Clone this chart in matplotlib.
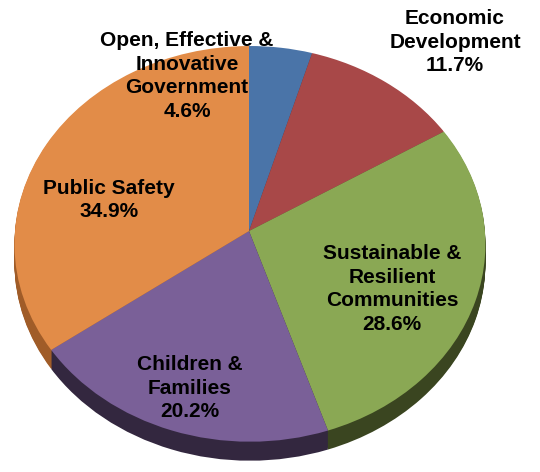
#!/usr/bin/env python3
"""
Tilted (3-D look) pie of budget shares by priority area.

Output:
- out.png
"""

import numpy as np
import matplotlib

matplotlib.use("Agg")
import matplotlib.pyplot as plt
from matplotlib.transforms import Transform

# data, clockwise from 12 o'clock
categories = [
    "Open, Effective &\nInnovative\nGovernment",
    "Economic\nDevelopment",
    "Sustainable &\nResilient\nCommunities",
    "Children &\nFamilies",
    "Public Safety",
]
shares = [4.6, 11.7, 28.6, 20.2, 34.9]

top_colors = ["#4A74A8", "#A84848", "#8AA854", "#7A6098", "#E28C48"]
side_colors = ["#2C4566", "#622828", "#3A4520", "#33273F", "#A05C28"]

# label block centres in pixels (x, y from top)
label_xy = [(187, 76), (455, 42), (392, 289), (190, 388), (109, 200)]

# view of the disc: centre, scale, tilt and perspective
CX, CY = 249.0, 231.0
A_X, C_XY, D_Y = 235.0, 0.0, 197.0
K_PERSP, M_PERSP = 0.065, -0.004
DEPTH = 19


class PieView(Transform):
    """Unit-disc coordinates -> pixel coordinates of a tilted disc."""
    input_dims = 2
    output_dims = 2

    def __init__(self, drop=0.0):
        super().__init__()
        self.drop = drop

    def transform_non_affine(self, values):
        xy = np.asarray(values, dtype=float)
        x, y = xy[:, 0], xy[:, 1]
        w = 1.0 + K_PERSP * y + M_PERSP * x
        px = CX + A_X * x / w
        py = CY - (C_XY * x + D_Y * y) / w + self.drop
        return np.column_stack([px, py])


def main():
    fig = plt.figure(figsize=(5.4, 4.72), dpi=100)
    ax = fig.add_axes([0, 0, 1, 1])

    # side wall: stack of darker discs dropped below the top face
    for drop in range(DEPTH, 0, -1):
        ax.pie(shares, colors=side_colors, startangle=90, counterclock=False,
               wedgeprops=dict(transform=PieView(drop) + ax.transData,
                               linewidth=0, antialiased=True))

    ax.pie(shares, colors=top_colors, startangle=90, counterclock=False,
           wedgeprops=dict(transform=PieView(0) + ax.transData,
                           linewidth=0, antialiased=True))

    ax.set_xlim(0, 540)
    ax.set_ylim(472, 0)
    ax.set_aspect("auto")
    ax.axis("off")

    for name, val, (x, y) in zip(categories, shares, label_xy):
        ax.text(x, y, f"{name}\n{val:.1f}%", ha="center", va="center",
                multialignment="center", fontsize=15, fontweight="bold",
                family=["Liberation Sans", "DejaVu Sans"], linespacing=1.3,
                color="black")

    fig.savefig("out.png", dpi=100, facecolor="white")
    plt.close(fig)


if __name__ == "__main__":
    main()
